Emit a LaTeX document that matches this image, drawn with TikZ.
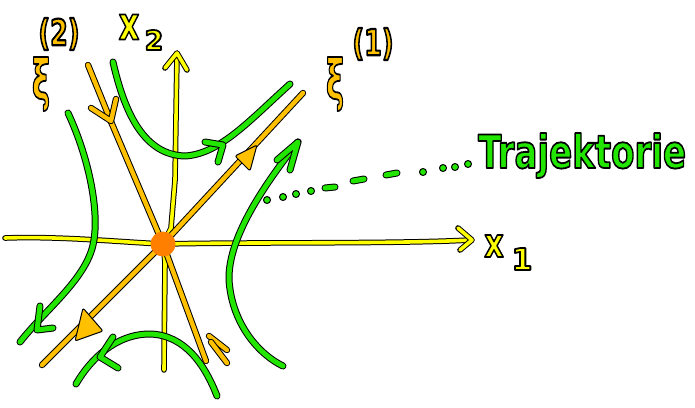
\documentclass[tikz,border=0pt]{standalone}
\usepackage{fontspec}
\setmainfont{DejaVu Sans}
\usepackage{graphicx}
\usetikzlibrary{calc}
\definecolor{hy}{HTML}{FFFF00}
\definecolor{hg}{HTML}{22E600}
\definecolor{ho}{HTML}{FFC000}
\definecolor{hc}{HTML}{FF8000}
\newcommand\olt[1]{\special{pdf:literal direct q 2 Tr 1.8 w 0 G 1 j}#1\special{pdf:literal direct Q}}
\tikzset{
  yel/.style={draw=hy, line width=3.6pt, line cap=round, line join=round,
    preaction={draw=black, line width=5.6pt, line cap=round, line join=round}},
  grn/.style={draw=hg, line width=5pt, line cap=round, line join=round,
    preaction={draw=black, line width=7pt, line cap=round, line join=round}},
  org/.style={draw=ho, line width=4.4pt, line cap=round, line join=round,
    preaction={draw=black, line width=6.4pt, line cap=round, line join=round}},
  orgtip/.style={fill=ho, draw=black, line width=1pt, line join=round, rounded corners=2pt},
  gdot/.style={circle, fill=hg, draw=black, line width=1pt, inner sep=0pt, minimum size=7pt},
  lab/.style={inner sep=0pt, font=\fontsize{#1}{#1}\selectfont\bfseries},
}
\begin{document}
\begin{tikzpicture}[x=1pt,y=-1pt]
\useasboundingbox (0,0) rectangle (695,407);
% key points
\coordinate (O) at (163,244);
\coordinate (xl) at (5,238);
\coordinate (xr) at (470,240);
\coordinate (yt) at (177,54);
\coordinate (yb) at (164,370);
\coordinate (ea) at (42,365);
\coordinate (eb) at (303,93);
\coordinate (fa) at (88,65);
\coordinate (fb) at (206,361);
% axes
\draw[yel] (xl) .. controls (60,236) and (120,242) .. (O) .. controls (250,242) and (400,244) .. (xr);
\draw[yel] (458,228) -- (472,240) -- (460,250);
\draw[yel] (yt) -- (175,180) -- (171,228) -- (O) -- (165,262) -- (yb);
\draw[yel] (165,68) -- (177,53) -- (187,70);
% eigen-directions
\draw[org] (ea) -- (O) -- (eb);
\draw[org] (fa) -- (112,124) -- (O) -- (fb);
\draw[org] (91,108) -- (111,121) -- (116,99);
\draw[org] (209,336) -- (227,350);
\draw[org] (211,342) -- (227,363);
\filldraw[orgtip] (257,145) -- (235,156) -- (250,171) -- cycle;
\filldraw[orgtip] (75,341) -- (83,308) -- (103,331) -- cycle;
% trajectories
\draw[grn] (113,62) .. controls (125,115) and (145,155) .. (185,156)
   .. controls (220,154) and (250,120) .. (290,84);
\draw[grn] (205,142) -- (223,145) -- (218,162);
\draw[grn] (298,142) .. controls (260,190) and (228,240) .. (229,280)
   .. controls (232,325) and (260,355) .. (283,366);
\draw[grn] (277,160) -- (298,142) -- (290,170);
\draw[grn] (68,113) .. controls (90,160) and (100,215) .. (93,245)
   .. controls (85,280) and (45,310) .. (20,342);
\draw[grn] (40,306) -- (37,330) -- (53,328);
\draw[grn] (217,396) .. controls (205,365) and (185,335) .. (150,334)
   .. controls (115,334) and (90,360) .. (76,384);
\draw[grn] (113,337) -- (100,357) -- (118,368);
% dotted hint
\draw[grn] (325,188) -- (335,187);
\draw[grn] (353,181) -- (364,179);
\draw[grn] (386,175) -- (397,173);
\foreach \p [count=\i] in {(267,200),(283,197),(296,194),(311,191),(423,172),(443,168),(455,167),(468,164)}
  \node[gdot] (d\i) at \p {};
% center
\node[circle, fill=hc, inner sep=0pt, minimum size=25pt] (c) at (O) {};
% labels
\node[lab=46, text=hy] (x2) at (129,27) {\scalebox{0.7}[1]{\olt{x}}};
\node[lab=27, text=hy] (x2i) at (154,40) {\olt{2}};
\node[lab=40, text=hy] (x1) at (494,246) {\scalebox{0.75}[1]{\olt{x}}};
\node[lab=30, text=hy] (x1i) at (522,259) {\olt{1}};
\node[lab=56, text=ho] (xi2) at (41,84) {\scalebox{0.55}[1]{\olt{ξ}}};
\node[lab=30, text=ho] (xi2i) at (59,34) {\scalebox{0.85}[1.2]{\olt{(2)}}};
\node[lab=56, text=ho] (xi1) at (335,84) {\scalebox{0.55}[1]{\olt{ξ}}};
\node[lab=30, text=ho] (xi1i) at (373,44) {\scalebox{0.85}[1.2]{\olt{(1)}}};
\node[lab=46, text=hg, anchor=base west] (tr) at (478,168) {\scalebox{0.74}[1]{\olt{Trajektorie}}};
\end{tikzpicture}
\end{document}
